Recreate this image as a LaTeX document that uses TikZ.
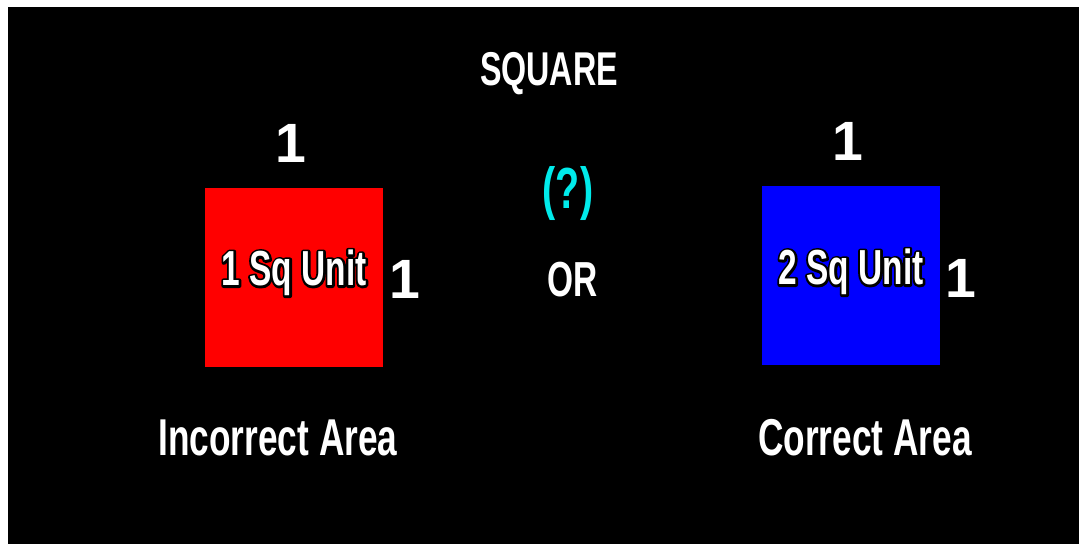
\documentclass[tikz,border=0pt]{standalone}
\usepackage{fontspec}
\setmainfont{Liberation Sans}[FakeStretch=0.68]
\newfontfamily\widefont{Liberation Sans}
\usepackage{tikz}
\usetikzlibrary{positioning}

\definecolor{qcyan}{RGB}{0,235,235}
% black rim drawn under the white letters
\newcommand{\rimtext}[1]{\special{pdf:literal direct 1 Tr 2.6 w 1 J 1 j 0 0 0 RG}#1\special{pdf:literal direct 0 Tr 0.4 w 0 J 0 j}}

\begin{document}
\begin{tikzpicture}[
  x=0.02cm, y=-0.02cm,
  lbl/.style={text=white, font=\bfseries\fontsize{#1}{#1}\selectfont, inner sep=0pt},
  side/.style={text=white, font=\widefont\bfseries\fontsize{31.5}{31.5}\selectfont, inner sep=0pt},
  sqbox/.style={draw=none, fill=#1, minimum width=3.56cm, minimum height=3.58cm, inner sep=0pt}
]
\useasboundingbox (0,0) rectangle (1079,544);
\fill[black] (8,7) rectangle (1079,544);

% Title
\node[lbl=27] (title) at (549,74) {SQUARE};

% Left square
\node[sqbox=red] (redsq) at (294,277.5) {};
\node[side] (redtop) at (291,143) {1};
\node[side] (redside) at (405,279) {1};
\node[lbl=28] (redrim) at (294,273) {\rimtext{1 Sq Unit}};
\node[lbl=28] (redarea) at (redrim) {1 Sq Unit};
\node[lbl=29.5] (wrong) at (278,438) {Incorrect Area};

% Middle
\node[lbl=33, text=qcyan] (quest) at (568,194) {(?)};
\node[lbl=28] (or) at (573,280) {OR};

% Right square
\node[sqbox=blue] (bluesq) at (851,275.5) {};
\node[side] (bluetop) at (848,141) {1};
\node[side] (blueside) at (961,278) {1};
\node[lbl=28] (bluerim) at (851,272) {\rimtext{2 Sq Unit}};
\node[lbl=28] (bluearea) at (bluerim) {2 Sq Unit};
\node[lbl=29.5] (right) at (865,438) {Correct Area};

\end{tikzpicture}
\end{document}
